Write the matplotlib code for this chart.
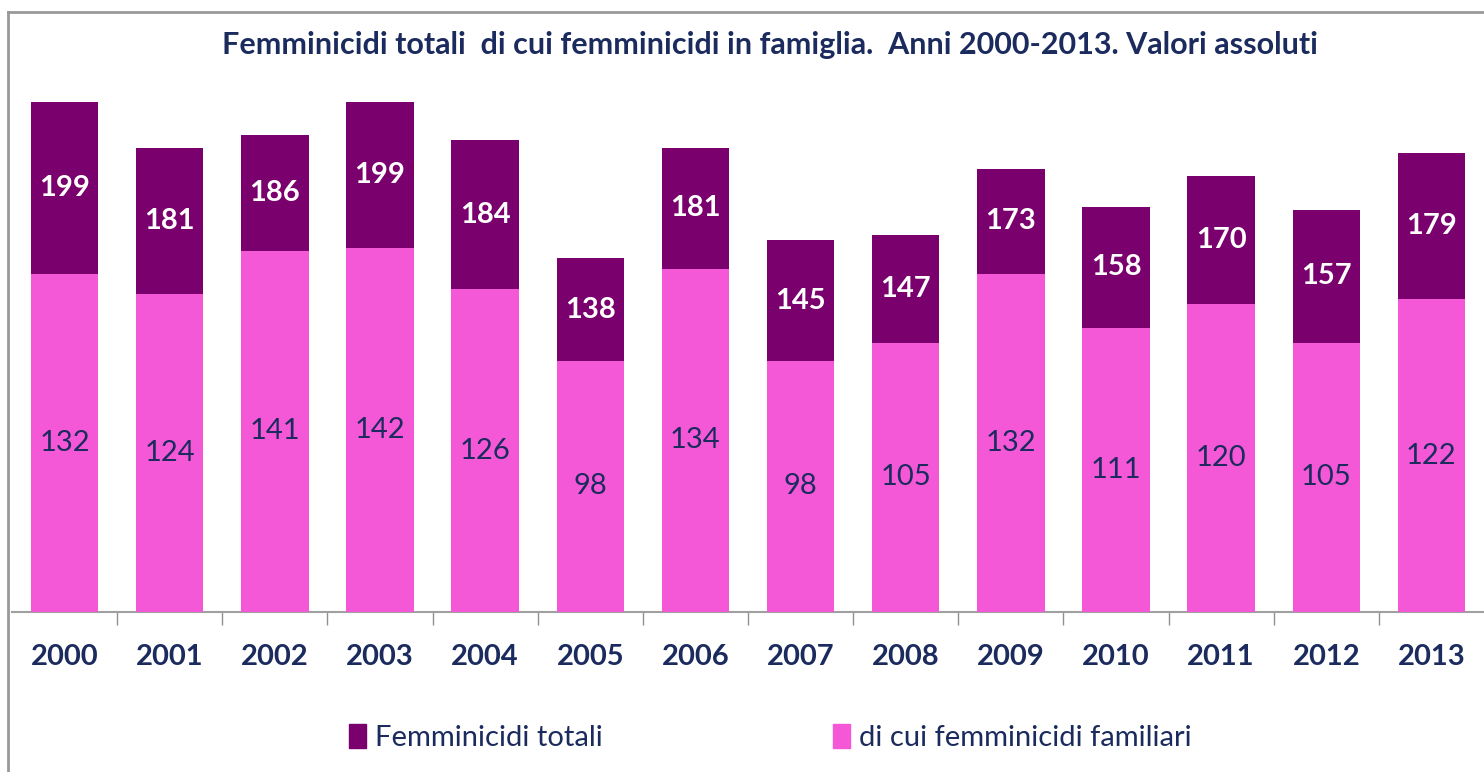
import numpy as np
import matplotlib.pyplot as plt
from matplotlib.lines import Line2D
from matplotlib.patches import Patch

# data
anni = ['2000', '2001', '2002', '2003', '2004', '2005', '2006',
        '2007', '2008', '2009', '2010', '2011', '2012', '2013']
totali = [199, 181, 186, 199, 184, 138, 181, 145, 147, 173, 158, 170, 157, 179]
familiari = [132, 124, 141, 142, 126, 98, 134, 98, 105, 132, 111, 120, 105, 122]

col_tot = '#7a006e'
col_fam = '#f558d7'
navy = '#1b2b5e'

plt.rcParams['font.family'] = ['Lato', 'DejaVu Sans']

fig = plt.figure(figsize=(14.84, 7.72), dpi=100)
ax = fig.add_axes([12 / 1484, 1 - 612 / 772, 1 - 12 / 1484, (612 - 99.4) / 772])

x = np.arange(len(anni))
w = 0.64

#total bar behind, familial bar in front
ax.bar(x, totali, w, color=col_tot, zorder=2)
ax.bar(x, familiari, w, color=col_fam, zorder=3)

for i in range(len(anni)):
    ax.text(x[i], (totali[i] + familiari[i]) / 2, str(totali[i]), ha='center', va='center',
            color='white', fontsize=21, fontweight='bold', zorder=4)
    ax.text(x[i], familiari[i] / 2, str(familiari[i]), ha='center', va='center',
            color=navy, fontsize=21, zorder=4)

ax.set_xlim(-0.5, 13.5)
ax.set_ylim(0, 200)
ax.set_yticks([])
ax.set_xticks(x)
ax.set_xticklabels(anni, fontsize=21, fontweight='bold', color=navy)
ax.set_xticks(x[:-1] + 0.5, minor=True)
ax.tick_params(axis='x', which='major', length=0, pad=23)
ax.tick_params(axis='x', which='minor', length=9, width=1, color='#909090', direction='out')
for s in ['top', 'right', 'left']:
    ax.spines[s].set_visible(False)
ax.spines['bottom'].set_color('#a0a0a0')
ax.spines['bottom'].set_linewidth(1.5)

fig.text(0.519, 1 - 45 / 772, 'Femminicidi totali  di cui femminicidi in famiglia.  Anni 2000-2013. Valori assoluti',
         ha='center', va='center', fontsize=22, fontweight='bold', color=navy)

handles = [Patch(color=col_tot), Patch(color=col_fam)]
fig.legend(handles, ['Femminicidi totali', 'di cui femminicidi familiari'], ncol=2, loc='center',
           bbox_to_anchor=(0.519, 0.045), frameon=False, fontsize=21, labelcolor=navy,
           handlelength=0.6, handleheight=0.9, handletextpad=0.3, columnspacing=7.9)

# outer frame of the original chart
fx = 8 / 1484
fy = 1 - 12 / 772
fig.add_artist(Line2D([fx, fx], [0, fy], color='#999999', lw=2))
fig.add_artist(Line2D([fx, 1], [fy, fy], color='#999999', lw=2))

fig.savefig('out.png', dpi=100)
